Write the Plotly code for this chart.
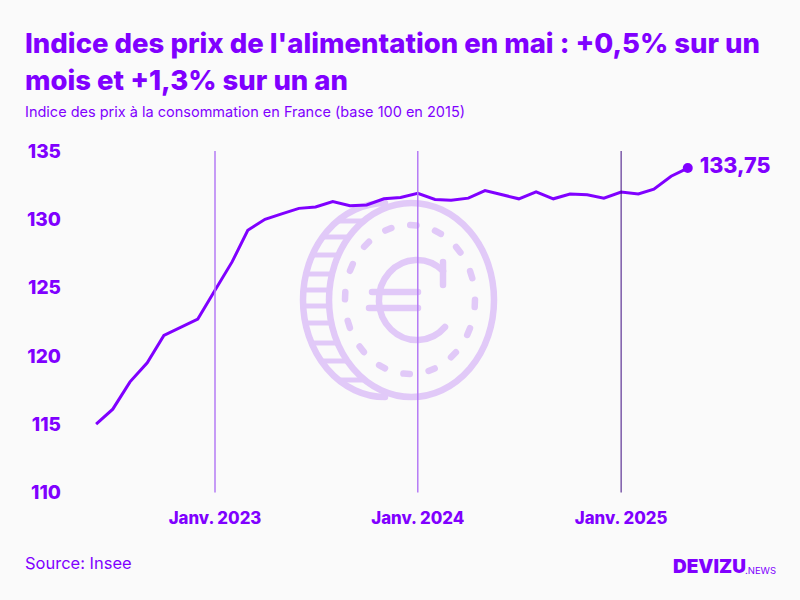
import base64
import math

import pandas as pd
import plotly.graph_objects as go

VIOLET = '#8000ff'

# indice mensuel, juin 2022 -> mai 2025
valeurs = [115.0, 116.1, 118.1, 119.5, 121.5, 122.1, 122.7,
           124.8, 126.9, 129.2, 130.0, 130.4, 130.8, 130.9, 131.3, 131.0, 131.05, 131.5, 131.6,
           131.9, 131.45, 131.4, 131.55, 132.1, 131.8, 131.5, 132.0, 131.5, 131.85, 131.8, 131.55,
           132.0, 131.85, 132.2, 133.15, 133.75]
mois = pd.date_range('2022-06-01', periods=len(valeurs), freq='MS')

y_ticks = [110, 115, 120, 125, 130, 135]
x_ticks = ['2023-01-01', '2024-01-01', '2025-01-01']
x_labels = ['Janv. 2023', 'Janv. 2024', 'Janv. 2025']
couleurs_vlines = ['#b57bf5', '#b57bf5', '#3d0a80']
largeurs_vlines = [1.5, 1.5, 1]


# la piece en fond, dessinee en svg (coordonnees en pixels de la page)
def piece_svg():
    parts = []
    parts.append('<ellipse cx="411.5" cy="300" rx="82.5" ry="97"/>')
    parts.append('<path d="M385 203 A82 97 0 0 0 385 397"/>')
    # tranche de la piece
    for yy in [221, 237, 255, 274, 290, 306, 323, 343, 361, 380]:
        t = (yy - 300) / 97
        xg = 388 - 83 * math.sqrt(1 - t * t)
        xd = 411.5 - 82.5 * math.sqrt(1 - t * t)
        parts.append(f'<path d="M{xg:.1f} {yy} L{xd:.1f} {yy}" stroke-width="5"/>')
    # pointilles
    for i in range(16):
        a = math.radians(-87 + i * 22.5)
        a1, a2 = a - 0.05, a + 0.05
        x1, y1 = 410 + 65 * math.cos(a1), 299.5 + 74.5 * math.sin(a1)
        x2, y2 = 410 + 65 * math.cos(a2), 299.5 + 74.5 * math.sin(a2)
        parts.append(f'<path d="M{x1:.1f} {y1:.1f} L{x2:.1f} {y2:.1f}"/>')
    # euro
    parts.append('<path d="M443 271 A38 40 0 1 0 445 327"/>')
    parts.append('<path d="M443 262 L443 285"/>')
    parts.append('<path d="M372 292 L418 292"/>')
    parts.append('<path d="M369 308 L418 308"/>')
    svg = ('<svg xmlns="http://www.w3.org/2000/svg" width="800" height="600" viewBox="0 0 800 600">'
           '<g fill="none" stroke="#e1c9f8" stroke-width="6.5" stroke-linecap="round" stroke-linejoin="round">'
           + ''.join(parts) + '</g></svg>')
    return 'data:image/svg+xml;base64,' + base64.b64encode(svg.encode()).decode()


fig = go.Figure()

fig.add_trace(go.Scatter(x=mois, y=valeurs, mode='lines',
                         line=dict(color=VIOLET, width=3), hoverinfo='skip'))
fig.add_trace(go.Scatter(x=[mois[-1]], y=[valeurs[-1]], mode='markers+text',
                         marker=dict(color=VIOLET, size=10),
                         text=['\u00a0' + f'{valeurs[-1]:.2f}'.replace('.', ',')],
                         textposition='middle right',
                         textfont=dict(family='Inter', size=21.5, color=VIOLET, weight=800),
                         cliponaxis=False))

for d, c, w in zip(x_ticks, couleurs_vlines, largeurs_vlines):
    fig.add_shape(type='line', x0=d, x1=d, y0=0, y1=1, xref='x', yref='y domain',
                  line=dict(color=c, width=w), layer='above')

fig.add_layout_image(source=piece_svg(), xref='paper', yref='paper', x=0, y=1,
                     sizex=1, sizey=1, sizing='stretch', layer='below',
                     xanchor='left', yanchor='top')

fig.add_annotation(x=23 / 800, y=1 - 43 / 600, xref='paper', yref='paper', xanchor='left', yanchor='middle',
                   text="Indice des prix de l'alimentation en mai : +0,5% sur un", showarrow=False,
                   font=dict(family='Inter', size=27.5, color=VIOLET, weight=800))
fig.add_annotation(x=23 / 800, y=1 - 80 / 600, xref='paper', yref='paper', xanchor='left', yanchor='middle',
                   text='mois et +1,3% sur un an', showarrow=False,
                   font=dict(family='Inter', size=27.5, color=VIOLET, weight=800))
fig.add_annotation(x=23 / 800, y=1 - 111 / 600, xref='paper', yref='paper', xanchor='left', yanchor='middle',
                   text='Indice des prix à la consommation en France (base 100 en 2015)', showarrow=False,
                   font=dict(family='Inter', size=14.5, color=VIOLET))
fig.add_annotation(x=23 / 800, y=1 - 563 / 600, xref='paper', yref='paper', xanchor='left', yanchor='middle',
                   text='Source: Insee', showarrow=False,
                   font=dict(family='Inter', size=16.5, color=VIOLET))
fig.add_annotation(x=671 / 800, y=1 - 566 / 600, xref='paper', yref='paper', xanchor='left', yanchor='middle',
                   text='DEVIZU', showarrow=False,
                   font=dict(family='Inter', size=19, color=VIOLET, weight=900))
fig.add_annotation(x=743 / 800, y=1 - 570 / 600, xref='paper', yref='paper', xanchor='left', yanchor='middle',
                   text='.NEWS', showarrow=False,
                   font=dict(family='Inter', size=9.5, color=VIOLET))

fig.update_layout(width=800, height=600, autosize=False,
                  margin=dict(l=0, r=0, t=0, b=0, autoexpand=False),
                  paper_bgcolor='#fafafa', plot_bgcolor='rgba(0,0,0,0)',
                  showlegend=False,
                  xaxis=dict(type='date', domain=[65 / 800, 775 / 800],
                             range=['2022-04-06', '2025-10-05'],
                             tickvals=x_ticks, ticktext=x_labels, showgrid=False, zeroline=False,
                             showline=False, ticks='', ticklabelstandoff=14,
                             tickfont=dict(family='Inter', size=16.8, color=VIOLET, weight=800)),
                  yaxis=dict(domain=[1 - 492.5 / 600, 1 - 151 / 600], range=[110, 135],
                             tickvals=y_ticks, showgrid=False, zeroline=False, showline=False,
                             ticks='', ticklabelstandoff=3,
                             tickfont=dict(family='Inter', size=19, color=VIOLET, weight=800)))

# pas de marge du navigateur autour du graphique
fig.write_html('out.html', config={'displayModeBar': False},
               post_script="document.body.style.margin='0';document.body.style.overflow='hidden';")
